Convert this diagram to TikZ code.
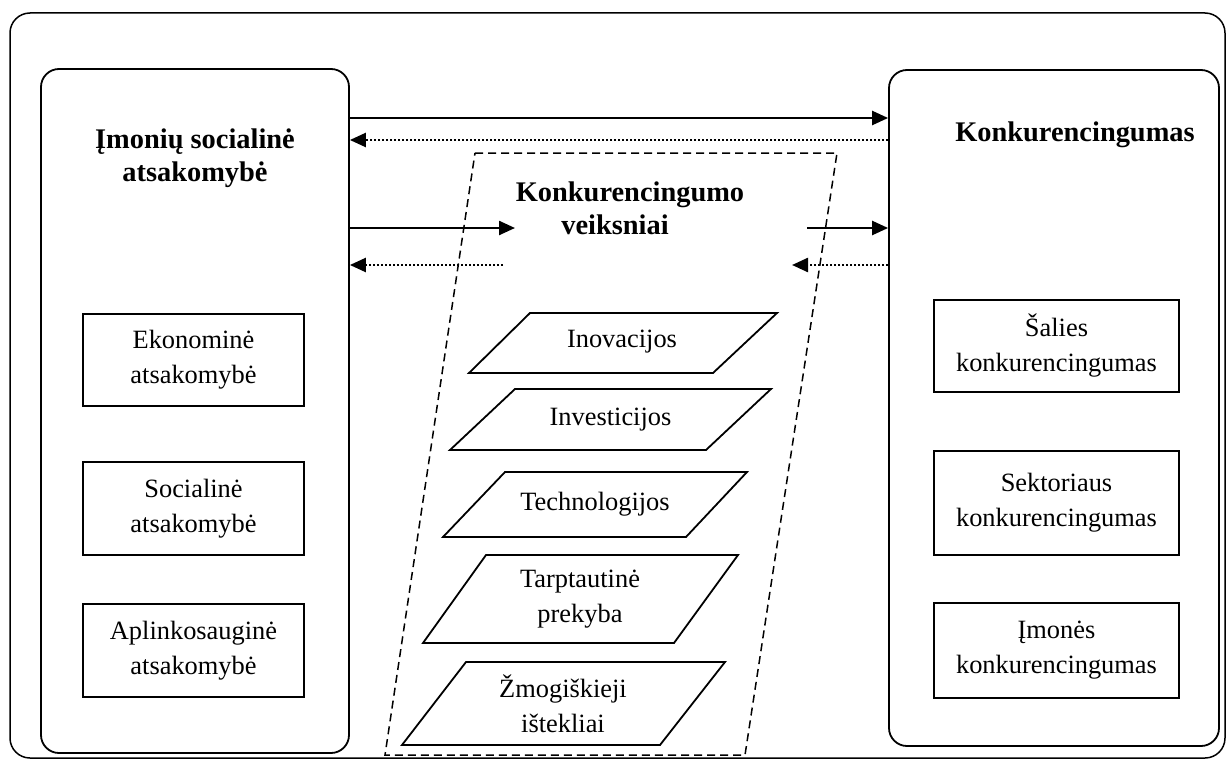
\documentclass[tikz,border=0pt]{standalone}
\usepackage{fontspec}
\setmainfont{Liberation Serif}
\usetikzlibrary{arrows.meta,calc}
\begin{document}
\begin{tikzpicture}[x=1pt,y=-1pt,
  txt/.style={font=\fontsize{26.4}{35}\selectfont, align=center, inner sep=0pt},
  ttl/.style={font=\fontsize{28.4}{33}\selectfont\bfseries, align=center, inner sep=0pt},
  bigbox/.style={draw, line width=1.8pt, rounded corners=18pt, inner sep=0pt},
  itembox/.style={draw, line width=1.8pt, inner sep=0pt, font=\fontsize{26.4}{35}\selectfont, align=center},
  para/.style={draw, line width=1.8pt, line join=miter},
  solidarr/.style={line width=2.4pt, -{Triangle[length=16pt,width=14pt]}},
  dotarr/.style={line width=2.4pt, dash pattern=on 2.4pt off 1.6pt, -{Triangle[length=16pt,width=14pt]}},
]
\useasboundingbox (0,0) rectangle (1228,760);
% outer frame
\draw[line width=1.5pt, rounded corners=20pt] (10,13) rectangle (1225,758);

% big boxes
\node[bigbox, minimum width=308pt, minimum height=684pt] (lbox) at (195,411) {};
\node[bigbox, minimum width=330pt, minimum height=676pt] (rbox) at (1054,408) {};

% titles
\node[ttl] (ltitle) at (195,158) {Įmonių socialinė\\atsakomybė};
\node[ttl] (rtitle) at (1075,135) {Konkurencingumas};
\node[ttl] (mtitle) at (630,208) {Konkurencingumo\\veiksniai\hspace*{30pt}};

% left items
\node[itembox, minimum width=221pt, minimum height=92pt] (ekon) at (193.5,360) {Ekonominė\\atsakomybė};
\node[itembox, minimum width=221pt, minimum height=93pt] (soc) at (193.5,508.5) {Socialinė\\atsakomybė};
\node[itembox, minimum width=221pt, minimum height=93pt] (apl) at (193.5,650.5) {Aplinkosauginė\\atsakomybė};

% right items
\node[itembox, minimum width=245pt, minimum height=92pt] (sal) at (1056.5,346) {Šalies\\konkurencingumas};
\node[itembox, minimum width=245pt, minimum height=104pt] (sek) at (1056.5,503) {Sektoriaus\\konkurencingumas};
\node[itembox, minimum width=245pt, minimum height=95pt] (imo) at (1056.5,650.5) {Įmonės\\konkurencingumas};

% dashed parallelogram
\draw[line width=1.5pt, dash pattern=on 8pt off 5pt] (475,153) -- (837,153) -- (745,755) -- (385,755) -- cycle;

% factor parallelograms
\draw[para] (530,313) -- (777,313) -- (713,373) -- (469,373) -- cycle;
\node[txt] (inov) at (622,342) {Inovacijos};
\draw[para] (515,389) -- (771,389) -- (706,450) -- (450,450) -- cycle;
\node[txt] (inv) at (610.5,419.5) {Investicijos};
\draw[para] (505,472) -- (747,472) -- (686,537) -- (443,537) -- cycle;
\node[txt] (tech) at (595,504.5) {Technologijos};
\draw[para] (486,555) -- (738,555) -- (674,643) -- (423,643) -- cycle;
\node[txt] (tarp) at (580,599) {Tarptautinė\\prekyba};
\draw[para] (466,662) -- (725,662) -- (660,745) -- (402,745) -- cycle;
\node[txt] (zmog) at (563,703.5) {Žmogiškieji\\ištekliai};

% arrow end coordinates
\coordinate (m1) at (515,228);
\coordinate (m2) at (503,265);
\coordinate (m3) at (807,228);
\coordinate (m4) at (792,265);

% top arrows
\draw[solidarr] (lbox.east |- 0,118) -- (rbox.west |- 0,118);
\draw[dotarr] (rbox.west |- 0,140) -- (lbox.east |- 0,140);
% middle arrows
\draw[solidarr] (lbox.east |- m1) -- (m1);
\draw[dotarr] (m2) -- (lbox.east |- m2);
\draw[solidarr] (m3) -- (rbox.west |- m3);
\draw[dotarr] (rbox.west |- m4) -- (m4);
\end{tikzpicture}
\end{document}
